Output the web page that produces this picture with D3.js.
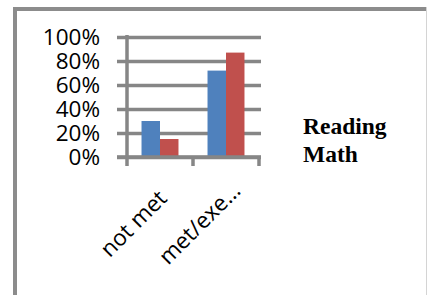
<!doctype html>
<html lang="en">
<head>
<meta charset="utf-8">
<title>Reading and Math</title>
<script src="https://d3js.org/d3.v7.min.js"></script>
<style>
  body { margin: 0; background: #fff; }
  svg { display: block; }
</style>
</head>
<body>
<div id="chart"></div>
<script>
const categories = ['not met', 'met/exe\u2026']
const seriesNames = ['Reading', 'Math']
const reading = [0.30, 0.72]
const math = [0.15, 0.87]
const yTicks = [0, 0.2, 0.4, 0.6, 0.8, 1.0]
const colors = ['#4f81bd', '#c0504d']

const W = 428, H = 295
const svg = d3.select('#chart').append('svg')
  .attr('width', W).attr('height', H)

// frame around the chart
svg.append('path')
  .attr('d', `M15,${H} V9 H426`)
  .attr('fill', 'none').attr('stroke', '#8c8c8c').attr('stroke-width', 4)
svg.append('line')
  .attr('x1', 426.5).attr('x2', 426.5).attr('y1', 7).attr('y2', H)
  .attr('stroke', '#d4d4d4').attr('stroke-width', 1)

const x0 = d3.scaleBand().domain(categories).range([127, 259])
const x1 = d3.scaleBand().domain(seriesNames)
  .range([x0.bandwidth() * 0.22, x0.bandwidth() * 0.78])
const y = d3.scaleLinear().domain([0, 1]).range([157, 37])

const gridColor = '#868686'

// gridlines + y labels
const yAxis = d3.axisLeft(y)
  .tickValues(yTicks)
  .tickFormat(d3.format('.0%'))
  .tickSize(-(261 - 117))
  .tickPadding(17)
const gy = svg.append('g').attr('transform', 'translate(117,0)').call(yAxis)
gy.select('.domain').remove()
gy.selectAll('.tick line').attr('stroke', gridColor).attr('stroke-width', 3.5)
gy.selectAll('.tick text')
  .attr('font-family', '"Open Sans", sans-serif')
  .attr('font-size', 22.5).attr('fill', '#000')

// bars
const rows = categories.map((c, i) => ({ cat: c, vals: [reading[i], math[i]] }))
const groups = svg.append('g').selectAll('g').data(rows).join('g')
  .attr('transform', d => `translate(${x0(d.cat)},0)`)
groups.selectAll('rect')
  .data(d => d.vals.map((v, j) => ({ name: seriesNames[j], v, j })))
  .join('rect')
  .attr('x', d => x1(d.name))
  .attr('width', x1.bandwidth())
  .attr('y', d => y(d.v))
  .attr('height', d => y(0) - y(d.v))
  .attr('fill', d => colors[d.j])

// axes lines drawn over the bars
svg.append('line')
  .attr('x1', 117).attr('x2', 261).attr('y1', y(0)).attr('y2', y(0))
  .attr('stroke', gridColor).attr('stroke-width', 3.5)
svg.append('line')
  .attr('x1', x0.range()[0]).attr('x2', x0.range()[0])
  .attr('y1', y(1) - 2).attr('y2', y(0) + 9)
  .attr('stroke', gridColor).attr('stroke-width', 3.5)
const edges = categories.map(c => x0(c) + x0.bandwidth())
svg.append('g').selectAll('line').data(edges).join('line')
  .attr('x1', d => d).attr('x2', d => d)
  .attr('y1', y(0)).attr('y2', y(0) + 9)
  .attr('stroke', gridColor).attr('stroke-width', 3.5)

// rotated category labels
svg.append('g').selectAll('text').data(categories).join('text')
  .attr('transform', d => `translate(${x0(d) + x0.bandwidth() / 2 - 21},229) rotate(-45)`)
  .attr('text-anchor', 'middle')
  .attr('font-family', '"Open Sans", sans-serif')
  .attr('font-size', 22.5)
  .attr('fill', '#000')
  .text(d => d)

// legend (text only)
svg.append('g').selectAll('text').data(seriesNames).join('text')
  .attr('x', 303)
  .attr('y', (d, i) => 134 + i * 28)
  .attr('font-family', '"Liberation Serif", "Times New Roman", serif')
  .attr('font-weight', 'bold')
  .attr('font-size', 23.5)
  .attr('fill', '#000')
  .text(d => d)
</script>
</body>
</html>
